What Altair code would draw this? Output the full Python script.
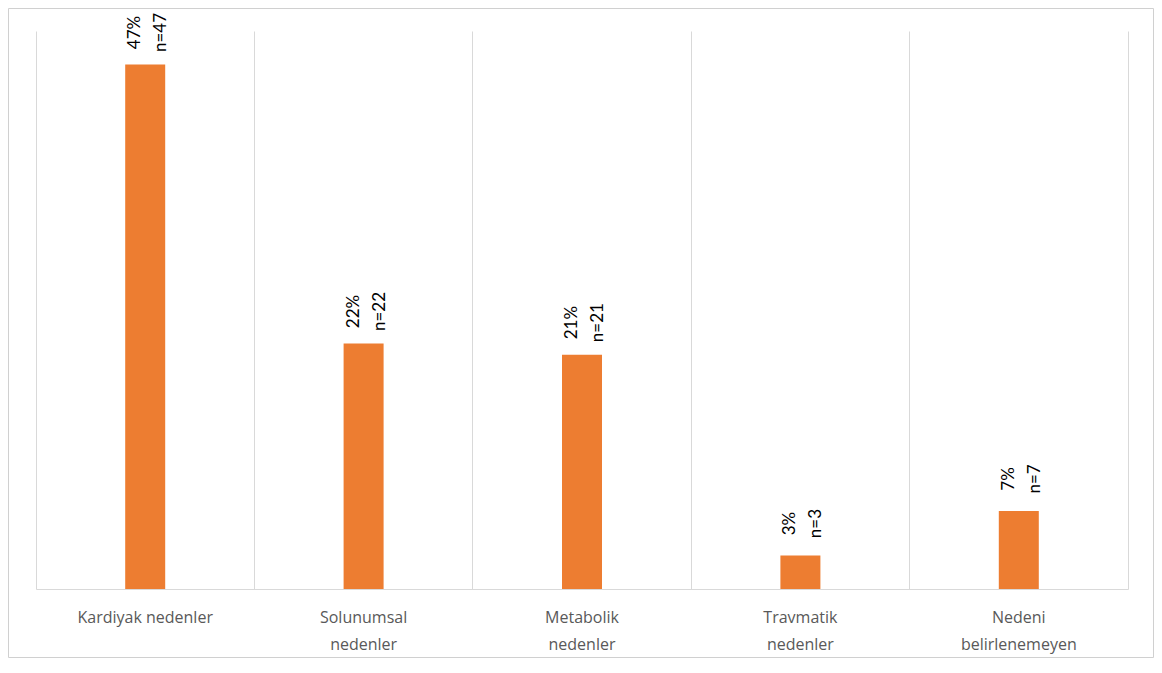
import altair as alt
import pandas as pd

categories = [
    "Kardiyak nedenler",
    "Solunumsal nedenler",
    "Metabolik nedenler",
    "Travmatik nedenler",
    "Nedeni belirlenemeyen",
]
percent = [47, 22, 21, 3, 7]
counts = [47, 22, 21, 3, 7]

df = pd.DataFrame({"cause": categories, "pct": percent, "n": counts})
df["label"] = [f"{p}%\nn={c}" for p, c in zip(percent, counts)]

W, H = 1092, 558
PAD_L, PAD_T, PAD_R, PAD_B = 28, 23, 26, 69
GRID = "#d9d9d9"

xscale = alt.Scale(paddingInner=0, paddingOuter=0)

x_axis = alt.Axis(
    title=None,
    bandPosition=0,
    grid=True,
    gridColor=GRID,
    gridWidth=1,
    ticks=False,
    domainColor=GRID,
    domainWidth=1,
    labelAngle=0,
    labelFont="Open Sans",
    labelFontSize=16,
    labelColor="#595959",
    labelPadding=20,
    labelLineHeight=27,
    labelOverlap=False,
    labelLimit=0,
    labelExpr="datum.value == 'Kardiyak nedenler' ? datum.value : split(datum.value, ' ')",
)

y_axis = alt.Axis(
    orient="right",
    title=None,
    labels=False,
    ticks=False,
    grid=False,
    domainColor=GRID,
    domainWidth=1,
)

y_enc = alt.Y("pct:Q", scale=alt.Scale(domain=[0, 50]), axis=y_axis)

base = alt.Chart(df)

bars = base.mark_bar(color="#ED7D31", width=alt.RelativeBandSize(40 / 218.4)).encode(
    x=alt.X("cause:N", sort=categories, scale=xscale, axis=x_axis),
    y=y_enc,
)

labels = base.mark_text(
    angle=270,
    align="center",
    baseline="middle",
    dx=32,
    dy=-10,
    lineBreak="\n",
    lineHeight=26,
    font="Lato",
    fontSize=17,
    color="#000000",
).encode(
    x=alt.X("cause:N", sort=categories),
    y=alt.Y("pct:Q"),
    text="label:N",
)

frame = alt.Chart(pd.DataFrame({"k": [0]})).mark_rect(
    filled=False, stroke="#d0d0d0", strokeWidth=1
).encode(
    x=alt.value(-PAD_L + 0.5),
    x2=alt.value(W + PAD_R - 0.5),
    y=alt.value(-PAD_T + 0.5),
    y2=alt.value(H + PAD_B - 0.5),
)

chart = (
    alt.layer(bars, labels, frame)
    .properties(
        width=W,
        height=H,
        autosize=alt.AutoSizeParams(type="none"),
        padding={"left": PAD_L, "top": PAD_T, "right": PAD_R, "bottom": PAD_B},
        background="white",
    )
    .configure_view(stroke=None)
)

chart.save("out.html", embed_options={"renderer": "svg", "actions": False})
